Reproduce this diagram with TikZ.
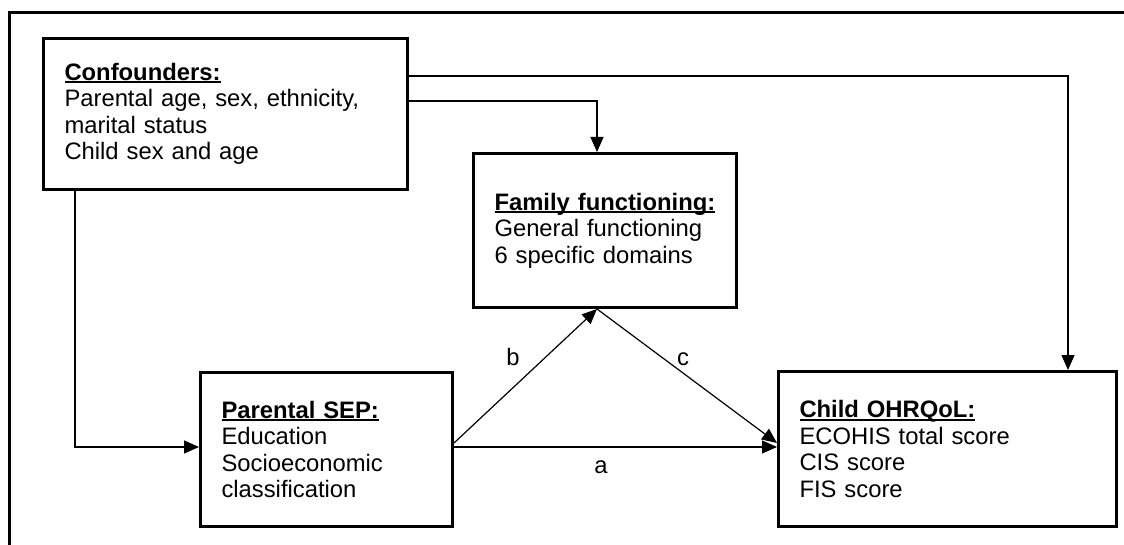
\documentclass[tikz,border=0pt]{standalone}
\usepackage{fontspec}
\setmainfont{Liberation Sans}
\usetikzlibrary{arrows.meta,calc}
% bold heading with a thick underline
\newcommand\ulhead[1]{\setbox0\hbox{\bfseries #1}\rlap{\rule[-2.8pt]{\wd0}{1.8pt}}\box0}
\begin{document}
\begin{tikzpicture}[x=1pt,y=-1pt,
  every node/.style={font=\fontsize{23.8pt}{26.5pt}\selectfont},
  block/.style={draw, line width=3pt, align=left, anchor=north west,
    inner xsep=21pt, inner ysep=0pt},
  conn/.style={line width=1.2pt, -{Triangle[length=15pt,width=13pt]}},
  lbl/.style={inner sep=0pt}]
\useasboundingbox (0,0) rectangle (1124,545);
\clip (0,0) rectangle (1124,545);
% outer frame
\draw[line width=3pt] (1140,13) -- (9,13) -- (9,560);

% boxes
\node[block, text width=322pt, minimum height=151pt] (conf) at (42,37)
  {\ulhead{Confounders:}\\Parental age, sex, ethnicity,\\marital status\\Child sex and age};
\node[block, text width=221pt, minimum height=154pt] (fam) at (472,152)
  {\ulhead{Family functioning:}\\General functioning\\6 specific domains};
\node[block, text width=210pt, minimum height=154pt] (sep) at (199,371)
  {\ulhead{Parental SEP:}\\Education\\Socioeconomic\\classification};
\node[block, text width=296pt, minimum height=155pt] (child) at (777,370)
  {\ulhead{Child OHRQoL:}\\ECOHIS total score\\CIS score\\FIS score};

% routing points
\coordinate (cA) at (1068,76);
\coordinate (cB) at (597,101);
\coordinate (cC) at (75,447);
\coordinate (cD) at (0,443);

% connectors
\draw[conn] (conf.east |- cA) -| (child.north -| cA);
\draw[conn] (conf.east |- cB) -| (fam.north -| cB);
\draw[conn] (conf.south -| cC) |- (sep.west |- cC);
\draw[conn] (sep.east |- cD) -- (fam.south -| cB);
\draw[conn] (fam.south -| cB) -- (child.west |- cD);
\draw[conn] (sep.east |- cC) -- (child.west |- cC);

% path labels
\node[lbl] (lb) at (513,357) {b};
\node[lbl] (lc) at (683,359) {c};
\node[lbl] (la) at (601,467) {a};
\end{tikzpicture}
\end{document}
